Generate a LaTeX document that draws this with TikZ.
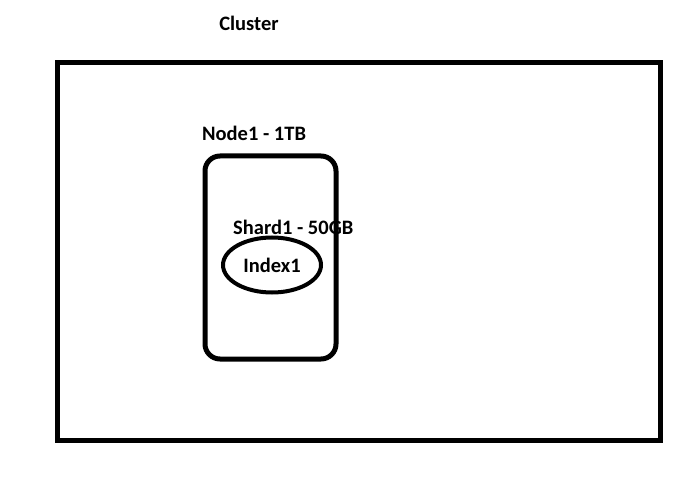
\documentclass[tikz,border=0pt]{standalone}
\usepackage{fontspec}
\setmainfont{Carlito}
\usetikzlibrary{positioning,shapes.geometric}

\tikzset{
  label text/.style={font=\bfseries\fontsize{20.5}{24}\selectfont, inner sep=0pt},
  frame/.style={draw, line width=5pt},
}

\begin{document}
\begin{tikzpicture}[x=1pt, y=-1pt]
\useasboundingbox (0,0) rectangle (693,478);
% cluster
\node[frame, rectangle, minimum width=603pt, minimum height=377pt, anchor=north west] (cluster) at (55,60.5) {};
\node[label text] (clusterlabel) at (249,23) {Cluster};
% node
\node[frame, rectangle, rounded corners=15pt, minimum width=131pt, minimum height=203pt, anchor=north west] (node1) at (202.5,153.5) {};
\node[label text, anchor=west] (node1label) at (202,133) {Node1 - 1TB};
% shard / index
\node[label text, anchor=west] (shardlabel) at (233,227) {Shard1 - 50GB};
\node[frame, ellipse, line width=4pt, minimum width=98pt, minimum height=55pt, inner sep=0pt] (index1) at (272,265) {};
\node[label text] (indexlabel) at (index1.center) {Index1};
\end{tikzpicture}
\end{document}
